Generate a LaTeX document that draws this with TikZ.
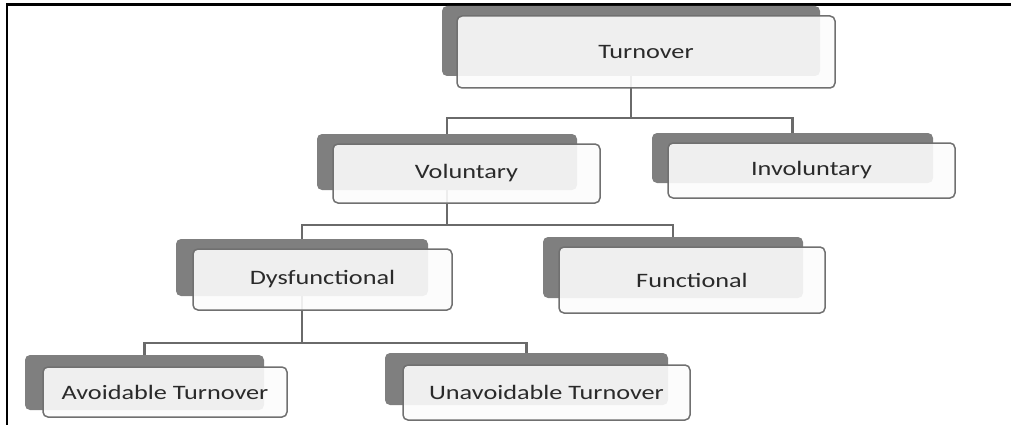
\documentclass[tikz,border=0pt]{standalone}
\usepackage{fontspec}
\newfontfamily\boxfont[FakeStretch=1.28]{Carlito}
\usetikzlibrary{backgrounds}
\definecolor{shadowgray}{HTML}{7F7F7F}
\definecolor{frontfill}{HTML}{FCFCFC}
\definecolor{frontline}{HTML}{707070}
\definecolor{linegray}{HTML}{6A6A6A}
\definecolor{textgray}{HTML}{2A2A2A}
\begin{document}
\begin{tikzpicture}[x=1pt,y=-1pt,
  shad/.style={fill=shadowgray, rounded corners=5pt, inner sep=0pt},
  front/.style={draw=frontline, line width=1.5pt, fill=frontfill, fill opacity=0.9,
    draw opacity=1, text opacity=1, rounded corners=5pt,
    inner sep=0pt, text=textgray, font=\boxfont\fontsize{20.5}{24}\selectfont},
  conn/.style={draw=linegray, line width=2.8pt}]
\useasboundingbox (0,0) rectangle (1011,425);
\draw[line width=2.6pt] (7,425) -- (7,4.3) -- (1011,4.3);

% Turnover
\node[shad, minimum width=378pt, minimum height=70pt] (tS) at (631,41) {};
\node[front, minimum width=378pt, minimum height=72pt] (t) at (646,52) {Turnover};
% Voluntary
\node[shad, minimum width=260pt, minimum height=56pt] (vS) at (447,162) {};
\node[front, minimum width=267pt, minimum height=59pt] (v) at (466.5,173.5) {Voluntary};
% Involuntary
\node[shad, minimum width=281pt, minimum height=50pt] (iS) at (792.5,158) {};
\node[front, minimum width=287pt, minimum height=55pt] (i) at (811.5,170.5) {Involuntary};
% Dysfunctional
\node[shad, minimum width=252pt, minimum height=57pt] (dS) at (302,267.5) {};
\node[front, minimum width=259pt, minimum height=61pt] (d) at (322.5,279.5) {Dysfunctional};
% Functional
\node[shad, minimum width=260pt, minimum height=61pt] (fS) at (673,267.5) {};
\node[front, minimum width=266pt, minimum height=66pt] (f) at (692,280) {Functional};
% Avoidable
\node[shad, minimum width=239pt, minimum height=55pt] (aS) at (144.5,382.5) {};
\node[front, minimum width=244pt, minimum height=50pt] (a) at (165,392) {Avoidable Turnover};
% Unavoidable
\node[shad, minimum width=283pt, minimum height=52pt] (uS) at (526.5,379) {};
\node[front, minimum width=287pt, minimum height=55pt] (u) at (546.5,392.5) {Unavoidable Turnover};

\begin{scope}[on background layer]
  \draw[conn] (tS.center) -- (tS.center |- 0,118) -| (vS.center);
  \draw[conn] (tS.center |- 0,118) -| (iS.center);
  \draw[conn] (vS.center) -- (vS.center |- 0,225) -| (dS.center);
  \draw[conn] (vS.center |- 0,225) -| (fS.center);
  \draw[conn] (dS.center) -- (dS.center |- 0,343) -| (aS.center);
  \draw[conn] (dS.center |- 0,343) -| (uS.center);
\end{scope}
\end{tikzpicture}
\end{document}
